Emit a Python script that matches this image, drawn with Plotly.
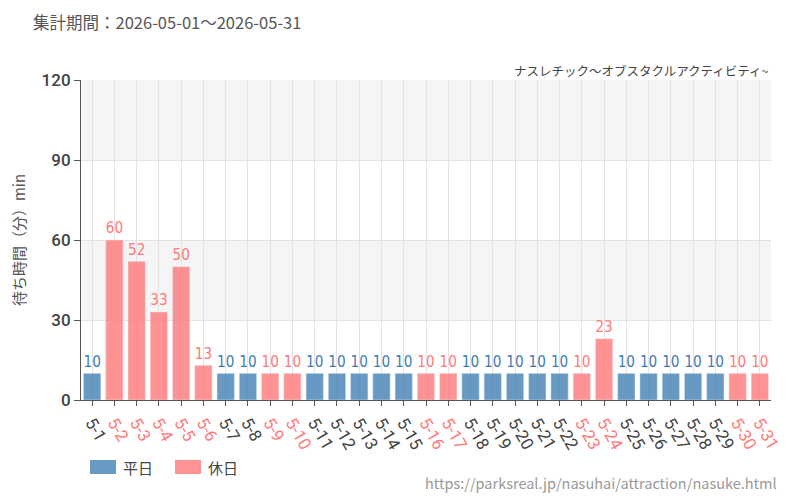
import plotly.graph_objects as go

dates = [f"5-{d}" for d in range(1, 32)]
values = [10, 60, 52, 33, 50, 13, 10, 10, 10, 10, 10, 10, 10, 10, 10, 10, 10,
          10, 10, 10, 10, 10, 10, 23, 10, 10, 10, 10, 10, 10, 10]
holiday = [0, 1, 1, 1, 1, 1, 0, 0, 1, 1, 0, 0, 0, 0, 0, 1, 1,
           0, 0, 0, 0, 0, 1, 1, 0, 0, 0, 0, 0, 1, 1]
y_ticks = [0, 30, 60, 90, 120]

BLUE = "rgba(70,130,180,0.82)"
PINK = "rgba(255,120,120,0.80)"
BLUE_T = "#3f7cb6"
PINK_T = "#ff7a7a"
LBL_FONT = "DejaVu Sans Condensed, Liberation Sans Narrow, Roboto, sans-serif"

W_L, W_R, W_T, W_B = 81, 29, 80, 100
PW, PH = 800 - W_L - W_R, 500 - W_T - W_B

wk_vals = [v if h == 0 else None for v, h in zip(values, holiday)]
hd_vals = [v if h == 1 else None for v, h in zip(values, holiday)]

fig = go.Figure()
fig.add_trace(go.Bar(x=dates, y=wk_vals, name="平日", marker_color=BLUE,
                     text=[str(v) if v is not None else "" for v in wk_vals],
                     textposition="outside", textfont=dict(color=BLUE_T, size=16.5, family=LBL_FONT),
                     cliponaxis=False, showlegend=False))
fig.add_trace(go.Bar(x=dates, y=hd_vals, name="休日", marker_color=PINK,
                     text=[str(v) if v is not None else "" for v in hd_vals],
                     textposition="outside", textfont=dict(color=PINK_T, size=16.5, family=LBL_FONT),
                     cliponaxis=False, showlegend=False))

ticktext = [f'<span style="color:{PINK_T}">{d}</span>' if h else d for d, h in zip(dates, holiday)]

shapes = []
for lo, hi in [(90, 120), (30, 60)]:
    shapes.append(dict(type="rect", xref="paper", yref="y", x0=0, x1=1, y0=lo, y1=hi,
                       fillcolor="#f5f5f5", line_width=0, layer="below"))

def px_x(p):
    return (p - W_L) / PW
def px_y(p):
    return (500 - W_B - p) / PH

shapes.append(dict(type="rect", xref="paper", yref="paper", x0=px_x(90), x1=px_x(116),
                   y0=px_y(474), y1=px_y(460), fillcolor=BLUE, line_width=0))
shapes.append(dict(type="rect", xref="paper", yref="paper", x0=px_x(175), x1=px_x(201),
                   y0=px_y(474), y1=px_y(460), fillcolor=PINK, line_width=0))

annotations = [
    dict(text="集計期間：2026-05-01～2026-05-31", xref="paper", yref="paper",
         x=px_x(31), y=px_y(22), xanchor="left", yanchor="middle", showarrow=False,
         font=dict(size=16.5, color="#555")),
    dict(text="ナスレチック～オブスタクルアクティビティ~", xref="paper", yref="paper",
         x=1, y=px_y(70), xanchor="right", yanchor="middle", showarrow=False,
         font=dict(size=12.5, color="#444")),
    dict(text="https://parksreal.jp/nasuhai/attraction/nasuke.html", xref="paper", yref="paper",
         x=px_x(779), y=px_y(482), xanchor="right", yanchor="middle", showarrow=False,
         font=dict(size=14.5, color="#999")),
    dict(text="平日", xref="paper", yref="paper", x=px_x(121), y=px_y(467),
         xanchor="left", yanchor="middle", showarrow=False, font=dict(size=15, color="#444")),
    dict(text="休日", xref="paper", yref="paper", x=px_x(206), y=px_y(467),
         xanchor="left", yanchor="middle", showarrow=False, font=dict(size=15, color="#444")),
]

fig.update_layout(
    width=800, height=500,
    margin=dict(l=W_L, r=W_R, t=W_T, b=W_B),
    paper_bgcolor="white", plot_bgcolor="rgba(0,0,0,0)",
    barmode="overlay", bargap=0.22,
    font=dict(family="Noto Sans CJK JP, Noto Sans, sans-serif", color="#444"),
    shapes=shapes, annotations=annotations,
    xaxis=dict(tickmode="array", tickvals=dates, ticktext=ticktext, tickangle=60,
               showgrid=True, gridcolor="#e3e3e3", gridwidth=1,
               ticks="outside", ticklen=5, tickcolor="#555",
               showline=True, linecolor="#555", linewidth=1,
               tickfont=dict(size=17, color="#444", family="Roboto, sans-serif")),
    yaxis=dict(range=[0, 120], tickvals=y_ticks, showgrid=True, gridcolor="#e3e3e3",
               ticks="outside", ticklen=6, tickcolor="#555",
               showline=True, linecolor="#555", linewidth=1, zeroline=False,
               tickfont=dict(size=17, color="#444", family="Roboto Medium, Roboto, sans-serif"),
               title=dict(text="待ち時間（分）min", font=dict(size=15, color="#555"), standoff=12)),
)

fig.write_html("out.html")
